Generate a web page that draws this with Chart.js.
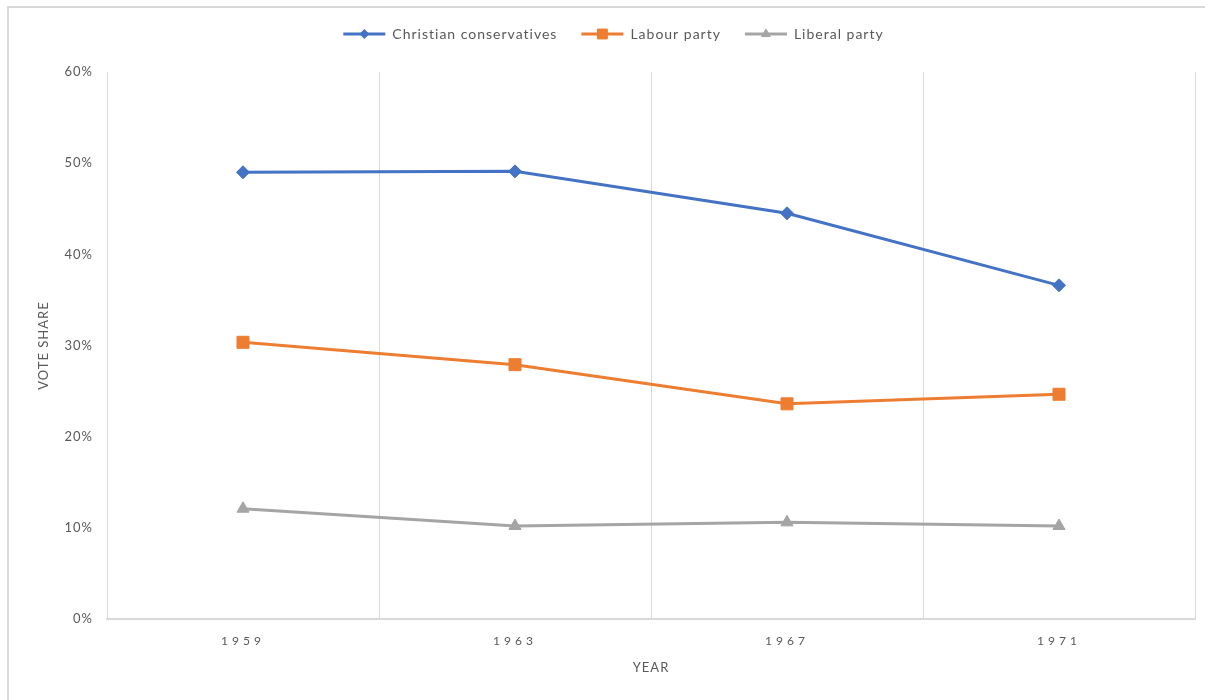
<!DOCTYPE html>
<html>
<head>
<meta charset="utf-8">
<script src="https://cdn.jsdelivr.net/npm/chart.js@4/dist/chart.umd.min.js"></script>
<style>
  html, body { margin: 0; padding: 0; background: #fff; }
  #wrap { width: 1205px; height: 700px; position: relative; }
</style>
</head>
<body>
<div id="wrap"><canvas id="c" width="1205" height="700"></canvas></div>
<script>
// Election years and vote shares (%) per party
const years = ['1959', '1963', '1967', '1971'];
const christianConservatives = [49.0, 49.1, 44.5, 36.6];
const labourParty = [30.35, 27.9, 23.6, 24.65];
const liberalParty = [12.1, 10.2, 10.6, 10.2];
const yTicks = [0, 10, 20, 30, 40, 50, 60];

const FONT = 'Lato, "Open Sans", sans-serif';
const TEXT = '#595959';
const GRID = '#d9d9d9';

// White background, outer frame, legend box sizing and base letter spacing
const framePlugin = {
  id: 'frame',
  beforeLayout(chart) {
    chart.ctx.letterSpacing = '1px';
    const lg = chart.legend;
    if (lg && !lg._fixedFit) {
      const origFit = lg.fit;
      lg.fit = function () {
        origFit.call(this);
        this.height = 69;
      };
      lg._fixedFit = true;
    }
  },
  afterLayout(chart) {
    // centre the legend row over the plot rather than the whole canvas
    const lg = chart.legend;
    if (lg) {
      lg.left += 16;
      lg.right += 16;
    }
  },
  beforeDraw(chart) {
    const ctx = chart.ctx;
    ctx.letterSpacing = '1px';
    ctx.save();
    ctx.fillStyle = '#fff';
    ctx.fillRect(0, 0, chart.width, chart.height);
    ctx.strokeStyle = '#d9d9d9';
    ctx.lineWidth = 2;
    ctx.strokeRect(8, 7, chart.width + 20, chart.height + 20);
    ctx.restore();
  }
};

// Widely spaced year labels on the category axis
const spacedTicksPlugin = {
  id: 'spacedTicks',
  afterLayout(chart) {
    const sx = chart.scales.x;
    if (sx && !sx._spacedPatched) {
      const orig = sx.drawLabels;
      sx.drawLabels = function (area) {
        const ctx = this.ctx;
        ctx.save();
        ctx.letterSpacing = '4px';
        orig.call(this, area);
        ctx.restore();
      };
      sx._spacedPatched = true;
    }
  }
};

// Legend entries drawn as a short line with the series marker on it
const legendMarkerSizes = [4.5, 7, 5];
const legendMarkerPlugin = {
  id: 'legendMarker',
  afterDraw(chart) {
    const legend = chart.legend;
    if (!legend || !legend.legendHitBoxes) return;
    const ctx = chart.ctx;
    legend.legendHitBoxes.forEach((box, i) => {
      const ds = chart.data.datasets[i];
      const bw = legend.options.labels.boxWidth;
      const cx = box.left + bw / 2;
      const cy = box.top + box.height / 2;
      ctx.save();
      ctx.fillStyle = ds.borderColor;
      ctx.strokeStyle = ds.borderColor;
      ctx.lineWidth = 1;
      Chart.helpers.drawPoint(ctx, {
        pointStyle: ds.pointStyle,
        radius: legendMarkerSizes[i],
        rotation: 0,
        borderWidth: 1
      }, cx, cy);
      ctx.restore();
    });
  }
};

function series(label, data, color, style, radius) {
  return {
    label: label,
    data: data,
    borderColor: color,
    backgroundColor: color,
    pointBackgroundColor: color,
    pointBorderColor: color,
    pointStyle: style,
    pointRadius: radius,
    pointBorderWidth: 1,
    borderWidth: 3,
    tension: 0,
    fill: false
  };
}

new Chart(document.getElementById('c'), {
  type: 'line',
  data: {
    labels: years,
    datasets: [
      series('Christian conservatives', christianConservatives, '#4472C4', 'rectRot', 6.5),
      series('Labour party', labourParty, '#ED7D31', 'rect', 8.5),
      series('Liberal party', liberalParty, '#A5A5A5', 'triangle', 7)
    ]
  },
  options: {
    responsive: false,
    animation: false,
    devicePixelRatio: 1,
    layout: { padding: { left: 0, right: 10, top: 3, bottom: 0 } },
    plugins: {
      tooltip: { enabled: false },
      legend: {
        position: 'top',
        align: 'center',
        labels: {
          color: TEXT,
          font: { family: FONT, size: 14 },
          boxWidth: 42,
          boxHeight: 3,
          padding: 24,
          usePointStyle: false,
          generateLabels(chart) {
            const items = Chart.defaults.plugins.legend.labels.generateLabels(chart);
            items.forEach(it => { it.lineWidth = 0; });
            return items;
          }
        }
      }
    },
    scales: {
      x: {
        type: 'category',
        offset: true,
        afterFit(scale) { scale.height = 81; },
        grid: {
          offset: true,
          color: GRID,
          lineWidth: 1,
          drawTicks: false
        },
        border: { color: GRID, width: 2 },
        ticks: {
          color: TEXT,
          font: { family: FONT, size: 12 },
          padding: 15
        },
        title: {
          display: true,
          text: 'YEAR',
          color: TEXT,
          font: { family: FONT, size: 13 },
          padding: { top: 0, bottom: 24 }
        }
      },
      y: {
        min: 0,
        max: 60,
        afterFit(scale) { scale.width = 107; },
        afterBuildTicks(scale) {
          scale.ticks = yTicks.map(v => ({ value: v }));
        },
        grid: { display: false, drawTicks: false },
        border: { color: GRID, width: 1 },
        ticks: {
          color: TEXT,
          font: { family: FONT, size: 13 },
          padding: 14,
          callback: v => v + '%'
        },
        title: {
          display: true,
          text: 'VOTE SHARE',
          color: TEXT,
          font: { family: FONT, size: 13 },
          padding: { top: 36, bottom: 0 }
        }
      }
    }
  },
  plugins: [framePlugin, spacedTicksPlugin, legendMarkerPlugin]
});
</script>
</body>
</html>
